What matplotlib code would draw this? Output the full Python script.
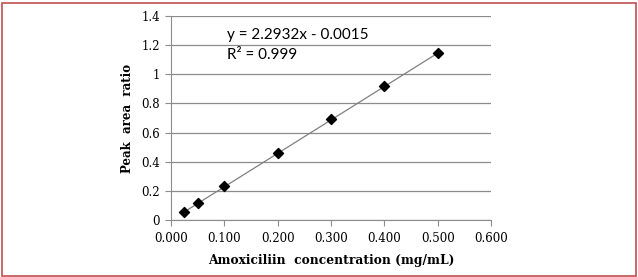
import numpy as np
import matplotlib.pyplot as plt
from matplotlib.patches import Rectangle

# data
conc = [0.025, 0.050, 0.100, 0.200, 0.300, 0.400, 0.500]
ratio = [0.055, 0.115, 0.230, 0.460, 0.690, 0.920, 1.147]
slope = 2.2932
intercept = -0.0015
r2 = 0.999

x_ticks = [0.0, 0.1, 0.2, 0.3, 0.4, 0.5, 0.6]
y_ticks = [0, 0.2, 0.4, 0.6, 0.8, 1.0, 1.2, 1.4]
y_tick_labels = ["0", "0.2", "0.4", "0.6", "0.8", "1", "1.2", "1.4"]

fig = plt.figure(figsize=(6.38, 2.77), dpi=100)
ax = fig.add_axes([171 / 638, 1 - 220 / 277, 320 / 638, 204 / 277])

# trendline
xl = np.array([conc[0], conc[-1]])
ax.plot(xl, slope * xl + intercept, color="#808080", lw=0.9, zorder=2)

ax.scatter(conc, ratio, marker="D", s=26, color="black", zorder=3)

ax.set_xlim(0, 0.6)
ax.set_ylim(0, 1.4)
ax.set_xticks(x_ticks)
ax.set_xticklabels(["%.3f" % v for v in x_ticks])
ax.set_yticks(y_ticks)
ax.set_yticklabels(y_tick_labels)

ax.grid(axis="y", color="#8c8c8c", lw=0.9)
ax.set_axisbelow(True)
for s in ["top", "right"]:
    ax.spines[s].set_visible(False)
for s in ["left", "bottom"]:
    ax.spines[s].set_color("#8c8c8c")
ax.tick_params(axis="x", length=4, color="#8c8c8c", labelsize=8.5, pad=5)
ax.tick_params(axis="y", length=4, color="#8c8c8c", labelsize=8.5, pad=4)
for lab in ax.get_xticklabels() + ax.get_yticklabels():
    lab.set_family("DejaVu Serif")

ax.set_xlabel("Amoxiciliin  concentration (mg/mL)", family="DejaVu Serif",
              fontweight="bold", fontsize=8.8, labelpad=6)
ax.set_ylabel("Peak  area  ratio", family="DejaVu Serif",
              fontweight="bold", fontsize=8.5, labelpad=5)

ax.text(0.105, 1.27, "y = %.4fx - %.4f" % (slope, -intercept),
        family="Lato", fontsize=11, va="center")
ax.text(0.105, 1.13, "R² = %.3f" % r2,
        family="Lato", fontsize=11, va="center")

# red frame
fig.patches.append(Rectangle((1.5 / 638, 1.5 / 277), 634 / 638, 273 / 277,
                             transform=fig.transFigure, fill=False,
                             edgecolor="#c0504d", lw=1.2))

fig.savefig("out.png", dpi=100)
